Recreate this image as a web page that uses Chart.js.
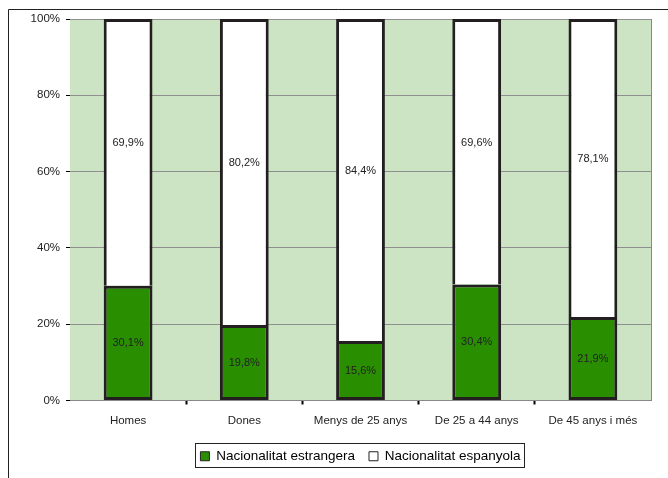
<!DOCTYPE html>
<html>
<head>
<meta charset="utf-8">
<script src="https://cdn.jsdelivr.net/npm/chart.js@4/dist/chart.umd.min.js"></script>
<style>
  html, body { margin: 0; padding: 0; background: #fff; }
  #wrap { width: 668px; height: 478px; }
</style>
</head>
<body>
<div id="wrap"><canvas id="chart" width="668" height="478"></canvas></div>
<script>
// categories and series (percent)
var categories = ['Homes', 'Dones', 'Menys de 25 anys', 'De 25 a 44 anys', 'De 45 anys i més'];
var estrangera = [30.1, 19.8, 15.6, 30.4, 21.9];
var espanyola = [69.9, 80.2, 84.4, 69.6, 78.1];
var seriesNames = ['Nacionalitat estrangera', 'Nacionalitat espanyola'];
var yTicks = [0, 20, 40, 60, 80, 100];

var ctx = document.getElementById('chart');
var FONT = "'Liberation Sans', Arial, sans-serif";

// green plot background, outer frame, plot right edge
var backdrop = {
    id: 'backdrop',
    beforeDraw: function(chart){
        var c = chart.ctx, a = chart.chartArea;
        c.save();
        c.fillStyle = '#fff';
        c.fillRect(0, 0, chart.width, chart.height);
        c.fillStyle = '#cce4c4';
        c.fillRect(a.left, a.top, a.right - a.left, a.bottom - a.top);
        c.strokeStyle = '#222';
        c.lineWidth = 1;
        c.beginPath();
        c.moveTo(8.5, chart.height);
        c.lineTo(8.5, 9.5);
        c.lineTo(chart.width, 9.5);
        c.stroke();
        c.strokeStyle = '#888';
        c.beginPath();
        c.moveTo(Math.round(a.right) + 0.5, a.top);
        c.lineTo(Math.round(a.right) + 0.5, a.bottom);
        c.stroke();
        c.restore();
    }
};

// value labels inside the segments
var valueLabels = {
    id: 'valueLabels',
    afterDatasetsDraw: function(chart){
        var c = chart.ctx;
        c.save();
        c.font = '11px ' + FONT;
        c.fillStyle = '#222';
        c.textAlign = 'center';
        c.textBaseline = 'middle';
        chart.data.datasets.forEach(function(ds, di){
            var meta = chart.getDatasetMeta(di);
            meta.data.forEach(function(el, i){
                var mid = (el.y + el.base) / 2;
                if (di == 1) mid -= 9;
                var txt = ds.data[i].toFixed(1).replace('.', ',') + '%';
                c.fillText(txt, el.x, mid);
            });
        });
        c.restore();
    }
};

// centre the legend under the plot area and box it
var legendBox = {
    id: 'legendBox',
    afterUpdate: function(chart){
        var lg = chart.legend, a = chart.chartArea;
        var dx = (a.left + a.right) / 2 - (lg.left + lg.right) / 2;
        lg.left += dx;
        lg.right += dx;
        lg.legendHitBoxes.forEach(function(h){ h.left += dx; });
    },
    afterDraw: function(chart){
        var boxes = chart.legend.legendHitBoxes;
        if (!boxes || !boxes.length) return;
        var l = Infinity, r = -Infinity, t = Infinity, b = -Infinity;
        boxes.forEach(function(h){
            l = Math.min(l, h.left); r = Math.max(r, h.left + h.width);
            t = Math.min(t, h.top); b = Math.max(b, h.top + h.height);
        });
        var c = chart.ctx;
        c.save();
        c.strokeStyle = '#222';
        c.lineWidth = 1;
        c.strokeRect(Math.round(l - 5) + 0.5, Math.round(t - 7) + 0.5, Math.round(r - l + 9), Math.round(b - t + 10));
        c.restore();
    }
};

new Chart(ctx, {
    type: 'bar',
    data: {
        labels: categories,
        datasets: [{
            label: seriesNames[0],
            data: estrangera,
            backgroundColor: '#2a8f00',
            borderColor: '#231f20',
            borderWidth: 3,
            borderSkipped: false
        }, {
            label: seriesNames[1],
            data: espanyola,
            backgroundColor: '#ffffff',
            borderColor: '#231f20',
            borderWidth: 3,
            borderSkipped: 'bottom'
        }]
    },
    options: {
        responsive: false,
        animation: false,
        devicePixelRatio: 1,
        layout: { padding: { left: 0, top: 19, right: 17, bottom: 5 } },
        datasets: { bar: { categoryPercentage: 1, barPercentage: 0.42 } },
        scales: {
            x: {
                stacked: true,
                offset: true,
                grid: {
                    display: true, drawOnChartArea: false, offset: true, tickLength: 4, tickWidth: 2,
                    tickColor: function(c){
                        return (c.type !== 'tick' || c.index === 0) ? 'rgba(0,0,0,0)' : '#000';
                    }
                },
                border: { display: true, color: '#888' },
                ticks: { color: '#222', font: { family: FONT, size: 11.5 }, padding: 9, maxRotation: 0 },
                afterFit: function(s){ s.height = 35; }
            },
            y: {
                stacked: true,
                min: 0,
                max: 100,
                afterBuildTicks: function(s){ s.ticks = yTicks.map(function(v){ return { value: v }; }); },
                grid: { color: '#8f8f8f', lineWidth: 1, tickLength: 4, tickColor: '#000' },
                border: { display: false },
                ticks: {
                    color: '#222',
                    font: { family: FONT, size: 11.5 },
                    padding: 6,
                    callback: function(v){ return v + '%'; }
                },
                afterFit: function(s){ s.width = 70; }
            }
        },
        plugins: {
            tooltip: { enabled: false },
            legend: {
                position: 'bottom',
                labels: {
                    color: '#000',
                    font: { family: FONT, size: 13.5 },
                    boxWidth: 9,
                    boxHeight: 9,
                    padding: 14,
                    generateLabels: function(chart){
                        var items = Chart.defaults.plugins.legend.labels.generateLabels(chart);
                        items.forEach(function(it){ it.lineWidth = 1; it.strokeStyle = '#222'; });
                        return items;
                    }
                }
            }
        }
    },
    plugins: [backdrop, valueLabels, legendBox]
});
</script>
</body>
</html>
